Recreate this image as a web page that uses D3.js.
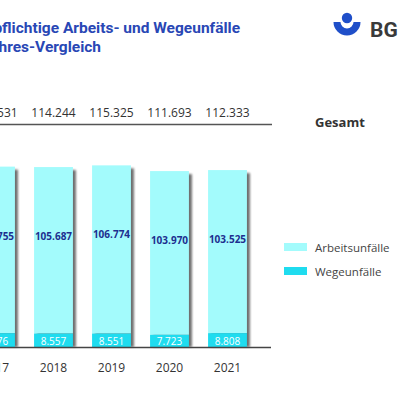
<!doctype html>
<html>
<head>
<meta charset="utf-8">
<title>Meldepflichtige Arbeits- und Wegeunfälle</title>
<script src="https://cdn.jsdelivr.net/npm/d3@7"></script>
<style>
  html, body { margin: 0; padding: 0; background: #fff; }
  svg { display: block; font-family: "Open Sans", "Noto Sans", sans-serif; }
</style>
</head>
<body>
<div id="chart"></div>
<script>
// data
var years = ["2017", "2018", "2019", "2020", "2021"];
var arbeitsunfaelle = [105755, 105687, 106774, 103970, 103525];
var wegeunfaelle = [8776, 8557, 8551, 7723, 8808];
var gesamt = [114531, 114244, 115325, 111693, 112333];
var seriesNames = ["Arbeitsunfälle", "Wegeunfälle"];
var titleLines = ["Meldepflichtige Arbeits- und Wegeunfälle", "im Fünf-Jahres-Vergleich"];

var colors = { arbeit: "#a3fbfc", wege: "#1fdcef", title: "#2947b5", dark: "#333" };
var fmt = function(v){ return d3.format(",")(v).replace(/,/g, "."); };

var svg = d3.select("#chart").append("svg")
    .attr("width", 400).attr("height", 400);

var defs = svg.append("defs");
defs.append("filter").attr("id", "shadow")
    .attr("x", "-20%").attr("y", "-5%").attr("width", "150%").attr("height", "110%")
  .append("feGaussianBlur").attr("stdDeviation", 1.1);

// scales
var x = d3.scaleBand().domain(years)
    .range([-33.5, 256.5]).paddingInner(0.33).paddingOuter(0.165);
var y = d3.scaleLinear().domain([0, 120000]).range([347, 158]);

// title (cropped on the left like the original)
svg.selectAll("text.title").data(titleLines).enter().append("text")
    .attr("class", "title")
    .attr("x", function(d, i){ return i === 0 ? 240 : 101; })
    .attr("y", function(d, i){ return 33 + i * 18.5; })
    .attr("text-anchor", "end")
    .attr("fill", colors.title)
    .attr("font-family", "Roboto, sans-serif")
    .attr("font-weight", "bold")
    .attr("font-size", "15.5px")
    .text(function(d){ return d; });

// logo
var logo = svg.append("g").attr("transform", "translate(347,22)");
logo.append("path")
    .attr("d", d3.arc().innerRadius(6.5).outerRadius(13.5).startAngle(Math.PI / 2).endAngle(Math.PI * 1.5)())
    .attr("fill", "#1f4fc9");
logo.append("circle").attr("cx", 0).attr("cy", -4).attr("r", 5.2).attr("fill", "#1f4fc9");
svg.append("text").attr("x", 370).attr("y", 37)
    .attr("font-family", "Roboto, sans-serif")
    .attr("font-weight", "bold").attr("font-size", "21px")
    .attr("fill", "#3a3a3a").text("BG");

// totals row
svg.selectAll("text.total").data(years).enter().append("text")
    .attr("class", "total")
    .attr("x", function(d){ return x(d) + x.bandwidth() / 2; })
    .attr("y", 117)
    .attr("text-anchor", "middle")
    .attr("font-size", "12px")
    .attr("fill", colors.dark)
    .text(function(d, i){ return fmt(gesamt[i]); });

svg.append("line").attr("x1", 0).attr("x2", 272).attr("y1", 124.5).attr("y2", 124.5)
    .attr("stroke", "#555").attr("stroke-width", 1.5);

svg.append("text").attr("x", 315).attr("y", 127)
    .attr("font-weight", "bold").attr("font-size", "13px")
    .attr("fill", colors.dark).text("Gesamt");

// bars
var bars = svg.selectAll("g.bar").data(years).enter().append("g").attr("class", "bar");

bars.append("rect")
    .attr("x", function(d){ return x(d) + 3; })
    .attr("y", function(d, i){ return y(gesamt[i]) + 3; })
    .attr("width", x.bandwidth())
    .attr("height", function(d, i){ return y(0) - y(gesamt[i]) - 3; })
    .attr("fill", "#6f6f6f")
    .attr("filter", "url(#shadow)");

bars.append("rect")
    .attr("x", function(d){ return x(d); })
    .attr("y", function(d, i){ return y(gesamt[i]); })
    .attr("width", x.bandwidth())
    .attr("height", function(d, i){ return y(wegeunfaelle[i]) - y(gesamt[i]); })
    .attr("fill", colors.arbeit);

bars.append("rect")
    .attr("x", function(d){ return x(d); })
    .attr("y", function(d, i){ return y(wegeunfaelle[i]); })
    .attr("width", x.bandwidth())
    .attr("height", function(d, i){ return y(0) - y(wegeunfaelle[i]); })
    .attr("fill", colors.wege);

bars.append("text")
    .attr("x", function(d){ return x(d) + x.bandwidth() / 2; })
    .attr("y", function(d, i){ return y(gesamt[i]) + 73; })
    .attr("text-anchor", "middle")
    .attr("font-size", "10px").attr("font-weight", "bold")
    .attr("fill", "#1d2f8f")
    .text(function(d, i){ return fmt(arbeitsunfaelle[i]); });

bars.append("text")
    .attr("x", function(d){ return x(d) + x.bandwidth() / 2; })
    .attr("y", y(0) - 2.5)
    .attr("text-anchor", "middle")
    .attr("font-size", "10px")
    .attr("fill", "#fff")
    .text(function(d, i){ return fmt(wegeunfaelle[i]); });

// x axis
var xAxis = svg.append("g").attr("transform", "translate(0," + y(0) + ")")
    .call(d3.axisBottom(x).tickSize(0).tickPadding(16));
xAxis.select(".domain").attr("d", "M0,0.5H271").attr("stroke", "#444").attr("stroke-width", 1.5);
xAxis.selectAll("text").attr("font-size", "12px").attr("fill", colors.dark)
    .attr("font-family", "'Open Sans', 'Noto Sans', sans-serif");

// legend
var legend = svg.selectAll("g.legend").data(seriesNames).enter().append("g")
    .attr("class", "legend")
    .attr("transform", function(d, i){ return "translate(284," + (243 + i * 24) + ")"; });
legend.append("rect").attr("width", 23).attr("height", 8)
    .attr("fill", function(d, i){ return i === 0 ? colors.arbeit : colors.wege; });
legend.append("text").attr("x", 31).attr("y", 8.5)
    .attr("font-size", "11.5px").attr("fill", "#444")
    .text(function(d){ return d; });
</script>
</body>
</html>
